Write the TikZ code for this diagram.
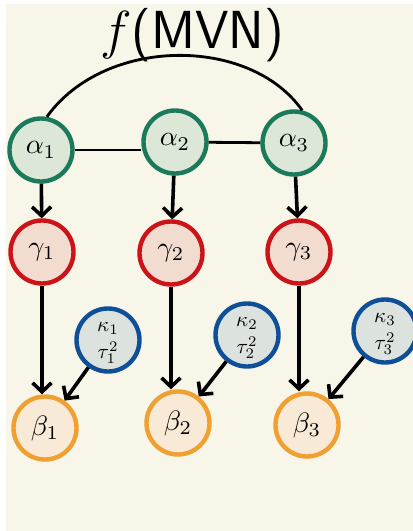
\documentclass[tikz,border=0pt]{standalone}
\usepackage{graphicx}
\usetikzlibrary{arrows.meta}
\definecolor{bgc}{HTML}{F8F5E9}
\definecolor{gline}{HTML}{1B7A5C}
\definecolor{gfill}{HTML}{DCE7D8}
\definecolor{rline}{HTML}{CC1418}
\definecolor{rfill}{HTML}{F2DCD0}
\definecolor{bline}{HTML}{0E4F98}
\definecolor{bfill}{HTML}{DCE2DE}
\definecolor{oline}{HTML}{F0A030}
\definecolor{ofill}{HTML}{F8EAD6}
\newcommand\lab[1]{\scalebox{2.8}{$#1$}}
\newcommand\klab[2]{\scalebox{2.1}{\begin{tabular}{@{}c@{}}$#1$\\[1pt]$#2$\end{tabular}}}
\tikzset{
  vnode/.style={circle, line width=4.4pt, minimum size=63pt, inner sep=0pt, align=center},
  alphan/.style={vnode, draw=gline, fill=gfill},
  gamman/.style={vnode, draw=rline, fill=rfill},
  kappan/.style={vnode, draw=bline, fill=bfill},
  betan/.style={vnode, draw=oline, fill=ofill},
  link/.style={line width=2.8pt, black},
  arr/.style={line width=3.6pt, black, -{Straight Barb[length=9pt,width=19pt,line width=3.6pt]}}
}
\begin{document}
\begin{tikzpicture}[x=1pt,y=-1pt]
\useasboundingbox (0,0) rectangle (413,531);
\fill[bgc] (6,4) rectangle (413,531);
\node[alphan] (a1) at (41,150) {\lab{\alpha_1}};
\node[alphan] (a2) at (175,142) {\lab{\alpha_2}};
\node[alphan] (a3) at (294,143) {\lab{\alpha_3}};
\node[gamman] (g1) at (42,252) {\lab{\gamma_1}};
\node[gamman] (g2) at (171,253) {\lab{\gamma_2}};
\node[gamman] (g3) at (299,252) {\lab{\gamma_3}};
\node[kappan] (k1) at (108,340) {\klab{\kappa_1}{\tau_1^2}};
\node[kappan] (k2) at (247,335) {\klab{\kappa_2}{\tau_2^2}};
\node[kappan] (k3) at (385,331) {\klab{\kappa_3}{\tau_3^2}};
\node[betan] (b1) at (45,428) {\lab{\beta_1}};
\node[betan] (b2) at (178,423) {\lab{\beta_2}};
\node[betan] (b3) at (307,425) {\lab{\beta_3}};
\node[inner sep=0pt] (mvn) at (192,35) {\scalebox{3.1}{\LARGE\sffamily $f$(MVN)}};
\draw[link] (a1.80) .. controls (105,36) and (250,36) .. (a3.76);
\draw[link] (a1.east) -- (a2.west |- a1.east);
\draw[link] (a2) -- (a3);
\draw[arr] (a1) -- (g1);
\draw[arr] (a2) -- (g2);
\draw[arr] (a3) -- (g3);
\draw[arr] (g1) -- (g1 |- b1.north);
\draw[arr] (g2) -- (g2 |- b2.north);
\draw[arr] (g3) -- (g3 |- b3.north);
\draw[arr] (k1) -- (b1);
\draw[arr] (k2) -- (b2);
\draw[arr] (k3) -- (b3);
\end{tikzpicture}
\end{document}
